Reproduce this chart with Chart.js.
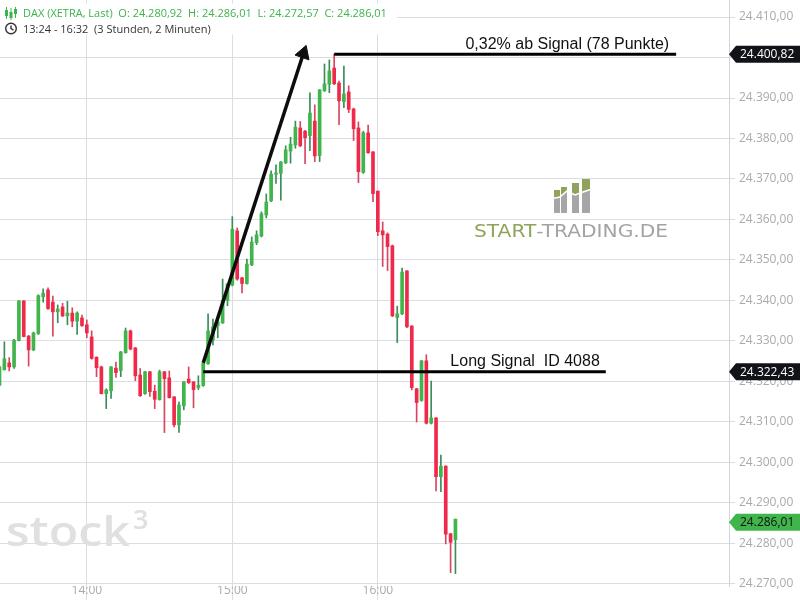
<!DOCTYPE html>
<html><head><meta charset="utf-8">
<script src="https://cdn.jsdelivr.net/npm/chart.js@4.4.1/dist/chart.umd.min.js"></script>
<style>html,body{margin:0;padding:0;background:#fff;}#wrap{width:800px;height:600px;position:relative;}</style>
</head><body><div id="wrap"><canvas id="c" width="800" height="600"></canvas></div>
<script>
// ---------- DATA ----------
const instrument = 'DAX (XETRA, Last)';
const rangeText = '13:24 - 16:32  (3 Stunden, 2 Minuten)';
const times = ['13:24','13:26','13:28','13:30','13:32','13:34','13:36','13:38','13:40','13:42','13:44','13:46','13:48','13:50','13:52','13:54','13:56','13:58',
'14:00','14:02','14:04','14:06','14:08','14:10','14:12','14:14','14:16','14:18','14:20','14:22','14:24','14:26','14:28','14:30','14:32','14:34','14:36','14:38','14:40','14:42','14:44','14:46','14:48','14:50','14:52','14:54','14:56','14:58',
'15:00','15:02','15:04','15:06','15:08','15:10','15:12','15:14','15:16','15:18','15:20','15:22','15:24','15:26','15:28','15:30','15:32','15:34','15:36','15:38','15:40','15:42','15:44','15:46','15:48','15:50','15:52','15:54','15:56','15:58',
'16:00','16:02','16:04','16:06','16:08','16:10','16:12','16:14','16:16','16:18','16:20','16:22','16:24','16:26','16:28','16:30','16:32'];
const open = [24319.1,24322.9,24324.6,24323.6,24330.1,24339.9,24331.2,24327.8,24331.8,24340.9,24342.6,24339.6,24337.2,24338.4,24336.2,24336.9,24334.9,24335.7,24334.0,24331.0,
24326.0,24323.6,24317.0,24317.7,24323.3,24322.7,24327.1,24332.5,24328.3,24321.6,24317.0,24322.4,24317.6,24315.5,24322.4,24320.9,24316.2,24309.3,24314.0,24320.6,
24319.9,24318.5,24319.0,24324.4,24330.2,24333.8,24334.5,24340.0,24343.8,24357.2,24345.6,24344.2,24348.8,24354.3,24355.9,24361.1,24364.6,24371.2,24371.4,24374.0,
24376.9,24378.4,24382.6,24381.8,24380.7,24384.3,24375.8,24391.8,24393.4,24397.4,24393.7,24389.1,24391.5,24387.3,24382.6,24371.6,24381.4,24376.7,24367.0,24357.2,
24356.4,24353.5,24335.8,24336.7,24347.3,24333.7,24318.2,24315.3,24325.1,24309.7,24311.0,24296.5,24299.1,24282.4,24280.92];
const high = [24323.8,24329.8,24325.9,24330.4,24340.0,24340.0,24331.4,24332.2,24341.4,24342.9,24343.1,24341.1,24338.9,24339.3,24339.8,24338.2,24337.2,24336.4,24335.2,24332.5,
24326.1,24323.8,24318.2,24323.7,24324.8,24327.4,24333.2,24332.7,24328.4,24323.2,24322.5,24322.5,24319.1,24322.8,24322.5,24322.6,24316.3,24314.9,24320.0,24323.6,
24320.0,24321.4,24324.6,24336.7,24335.4,24335.4,24345.3,24344.2,24360.7,24357.9,24345.7,24350.2,24355.7,24357.2,24361.9,24366.3,24372.0,24373.5,24374.3,24378.2,
24380.3,24384.3,24384.2,24382.0,24391.3,24388.3,24392.1,24398.4,24399.4,24400.82,24394.2,24397.9,24393.0,24387.5,24384.1,24381.8,24383.3,24376.8,24367.1,24359.4,
24356.7,24353.7,24338.6,24348.0,24347.4,24333.8,24318.3,24325.2,24326.6,24320.1,24311.1,24301.8,24299.2,24282.5,24286.01];
const low = [24318.9,24322.8,24322.6,24323.2,24330.0,24331.0,24323.8,24327.6,24331.6,24339.6,24337.8,24331.2,24334.5,24336.0,24334.0,24333.5,24331.6,24333.6,24330.8,24325.5,
24321.2,24316.9,24313.3,24315.8,24321.0,24321.2,24327.0,24327.8,24320.2,24316.3,24316.8,24316.3,24313.3,24315.4,24307.4,24315.9,24308.8,24307.4,24313.0,24319.5,
24313.5,24318.0,24318.8,24324.2,24329.0,24330.8,24334.3,24338.7,24343.6,24345.0,24341.9,24344.0,24348.6,24353.8,24355.7,24360.4,24364.4,24368.9,24364.8,24373.8,
24373.9,24377.6,24378.0,24373.8,24377.0,24374.3,24374.3,24391.6,24391.3,24393.3,24383.4,24387.6,24386.4,24379.5,24369.1,24371.4,24376.3,24364.4,24356.0,24348.4,
24347.4,24336.0,24329.6,24336.5,24333.3,24317.9,24310.0,24315.1,24309.5,24309.5,24293.0,24292.8,24279.9,24272.8,24272.57];
const close = [24323.6,24325.6,24323.6,24330.2,24339.9,24331.1,24327.8,24332.0,24341.2,24341.8,24338.0,24337.2,24337.9,24336.2,24336.9,24334.9,24336.9,24333.8,24332.0,24325.7,
24323.4,24317.0,24317.9,24323.6,24322.2,24327.3,24332.5,24328.0,24321.4,24316.5,24322.4,24317.5,24315.6,24322.4,24320.7,24316.0,24309.3,24314.2,24319.9,24319.7,
24318.0,24319.1,24324.5,24332.5,24333.5,24334.7,24340.1,24344.1,24357.6,24345.3,24344.2,24349.0,24354.4,24356.2,24361.4,24364.3,24371.2,24371.5,24374.2,24377.2,
24378.6,24382.8,24378.2,24380.2,24386.3,24375.7,24392.0,24393.5,24396.7,24393.5,24389.3,24391.0,24387.2,24382.4,24371.8,24381.4,24376.5,24366.4,24357.0,24356.2,
24353.3,24336.2,24336.7,24347.0,24333.5,24318.5,24314.8,24325.1,24309.7,24311.0,24296.5,24299.1,24282.3,24280.3,24286.01];
const yTickValues = [24270,24280,24290,24300,24310,24320,24330,24340,24350,24360,24370,24380,24390,24400,24410];
const xTickLabels = ['14:00','15:00','16:00'];
const signalLine = {start:'14:48', end:'17:34', price:24322.43, label:'Long Signal  ID 4088'};
const targetLine = {start:'15:42', end:'18:03', price:24400.82, label:'0,32% ab Signal (78 Punkte)'};
const arrowFrom = {time:'14:48', price:24324.6};
const arrowTo = {time:'15:29.3', price:24401.0};
const priceTags = [
  {price:24400.82, bg:'#111318', fg:'#ffffff', shift:0},
  {price:24322.43, bg:'#111318', fg:'#ffffff', shift:0},
  {price:24286.01, bg:'#3fb54b', fg:'#111111', shift:3}
];
const xRange = {min:'13:24.2', max:'18:24.8'};
const yRange = {min:24269.5, max:24414.2};

// ---------- HELPERS ----------
const toMin = s => { const p = s.split(':'); return (+p[0])*60 + parseFloat(p[1]); };
const fmtNum = v => { const f = v.toFixed(2).split('.'); return f[0].replace(/\B(?=(\d{3})+(?!\d))/g,'.') + ',' + f[1]; };
const fmtTime = v => { const h = Math.floor(v/60), m = Math.round(v - h*60); return String(h).padStart(2,'0') + ':' + String(m).padStart(2,'0'); };

const GREEN='#3fb54b', RED='#f0284a', GREEN_W='#3a8c5a', RED_W='#d8455f';
const GRID='#dcdce5', AXISC='#d3d3dc', LABEL='#aaaaaa';
const xs = times.map(toMin);
const up = close.map((c,i)=> c >= open[i]);

const decor = {
  id:'decor',
  beforeDatasetsDraw(chart){
    const ctx = chart.ctx;
    ctx.save();
    // stock3 watermark
    ctx.fillStyle = '#e0e0e0';
    ctx.textBaseline = 'alphabetic';
    ctx.font = '600 42px "Open Sans"';
    const w = ctx.measureText('stock').width;
    ctx.save(); ctx.translate(6, 546); ctx.scale(124/w, 1); ctx.fillText('stock', 0, 0); ctx.restore();
    ctx.font = '600 27px "Open Sans"';
    ctx.fillText('3', 133, 529);
    // START-TRADING.DE logo
    const bars = [[554,190],[561,187],[572,183],[582,179]];
    const bw = [6,6,7,8];
    bars.forEach((b,k)=>{ ctx.fillStyle='#a6a6a6'; ctx.fillRect(b[0], b[1], bw[k], 213-b[1]); });
    ctx.save();
    ctx.beginPath(); ctx.moveTo(550,175); ctx.lineTo(595,175); ctx.lineTo(595,188); ctx.lineTo(583,192); ctx.lineTo(575,195); ctx.lineTo(567,191); ctx.lineTo(560,197); ctx.lineTo(550,199); ctx.closePath(); ctx.clip();
    bars.forEach((b,k)=>{ ctx.fillStyle='#8fa35a'; ctx.fillRect(b[0], b[1], bw[k], 213-b[1]); });
    ctx.restore();
    ctx.strokeStyle='#ffffff'; ctx.lineWidth=1.6;
    ctx.beginPath(); ctx.moveTo(550,199); ctx.lineTo(560,197); ctx.lineTo(567,191); ctx.lineTo(575,195); ctx.lineTo(583,192); ctx.lineTo(595,188); ctx.stroke();
    ctx.font = '17px "DejaVu Sans"';
    const t1 = 'START', t2 = '-TRADING.DE';
    const w1 = ctx.measureText(t1).width, w2 = ctx.measureText(t2).width;
    const sc = 194/(w1+w2);
    ctx.save(); ctx.translate(474, 237); ctx.scale(sc,1);
    ctx.fillStyle='#8fa35a'; ctx.fillText(t1,0,0);
    ctx.fillStyle='#a3a3a3'; ctx.fillText(t2,w1,0);
    ctx.restore();
    ctx.restore();
  },
  afterDraw(chart){
    const ctx = chart.ctx, xS = chart.scales.x, yS = chart.scales.y;
    ctx.save();
    // line labels
    ctx.font = '16px "Liberation Sans", Arial, sans-serif';
    ctx.fillStyle = '#111';
    ctx.textAlign = 'right'; ctx.textBaseline = 'alphabetic';
    [[targetLine,7],[signalLine,6]].forEach(([L,off])=>{
      ctx.fillText(L.label, xS.getPixelForValue(toMin(L.end)) - off, yS.getPixelForValue(L.price) - 5.5);
    });
    // price tags
    ctx.textAlign='left'; ctx.textBaseline='middle';
    ctx.font = '12px "Open Sans"';
    const xa = chart.chartArea.right;
    priceTags.forEach(t=>{
      const yc = yS.getPixelForValue(t.price) + t.shift;
      ctx.fillStyle = t.bg;
      ctx.beginPath(); ctx.moveTo(xa, yc); ctx.lineTo(xa+7, yc-8.5); ctx.lineTo(800, yc-8.5); ctx.lineTo(800, yc+8.5); ctx.lineTo(xa+7, yc+8.5); ctx.closePath(); ctx.fill();
      ctx.fillStyle = t.fg; ctx.fillText(fmtNum(t.price), xa+11, yc+0.5);
    });
    // header
    ctx.fillStyle='#fff'; ctx.fillRect(0,3.5,397,31);
    const n = close.length-1;
    const hdr = instrument + '  O: ' + fmtNum(open[n]) + '  H: ' + fmtNum(high[n]) + '  L: ' + fmtNum(low[n]) + '  C: ' + fmtNum(close[n]);
    ctx.font = '11px "Open Sans"'; ctx.textBaseline='alphabetic'; ctx.textAlign='left';
    ctx.fillStyle = '#3db34b'; ctx.fillText(hdr, 23, 17);
    ctx.fillStyle = '#333'; ctx.fillText(rangeText, 23, 32.5);
    // candle icon
    ctx.strokeStyle='#3db34b'; ctx.fillStyle='#3db34b'; ctx.lineWidth=1;
    [[6.5,7,19,10,16],[11,8,20,12,18],[15.5,7,18,9,14]].forEach(c=>{
      ctx.beginPath(); ctx.moveTo(c[0],c[1]); ctx.lineTo(c[0],c[2]); ctx.stroke();
      ctx.fillRect(c[0]-1.5,c[3],3,c[4]-c[3]);
    });
    // clock icon
    ctx.strokeStyle='#333'; ctx.lineWidth=1.4;
    ctx.beginPath(); ctx.arc(11,28.5,5.3,0,Math.PI*2); ctx.stroke();
    ctx.beginPath(); ctx.moveTo(11,25.5); ctx.lineTo(11,28.7); ctx.lineTo(13.5,30.2); ctx.stroke();
    ctx.restore();
  }
};

new Chart(document.getElementById('c'), {
  type:'bar',
  data:{ datasets:[
    {type:'line', data:[{x:toMin(signalLine.start),y:signalLine.price},{x:toMin(signalLine.end),y:signalLine.price}], borderColor:'#000', borderWidth:3, pointRadius:0, order:0, borderCapStyle:'butt'},
    {type:'line', data:[{x:toMin(targetLine.start),y:targetLine.price},{x:toMin(targetLine.end),y:targetLine.price}], borderColor:'#000', borderWidth:3, pointRadius:0, order:0, borderCapStyle:'butt'},
    {type:'line', data:[{x:toMin(arrowFrom.time),y:arrowFrom.price},{x:toMin(arrowTo.time),y:arrowTo.price}], borderColor:'#0d0d0d', borderWidth:3.5, pointRadius:[0,8.5], pointStyle:'triangle', pointRotation:[0,19], pointBackgroundColor:'#0d0d0d', pointBorderColor:'#0d0d0d', pointBorderWidth:1, order:0, borderCapStyle:'butt'},
    {type:'bar', data: xs.map((x,i)=>({x, y:[open[i], close[i]]})), backgroundColor: up.map(u=>u?GREEN:RED), barThickness:3, minBarLength:1, grouped:false, order:1, borderWidth:0},
    {type:'bar', data: xs.map((x,i)=>({x, y:[low[i], high[i]]})), backgroundColor: up.map(u=>u?GREEN_W:RED_W), barThickness:1, grouped:false, order:2, borderWidth:0}
  ]},
  options:{
    responsive:false, animation:false, events:[],
    layout:{padding:0, autoPadding:false},
    plugins:{legend:{display:false}, tooltip:{enabled:false}},
    scales:{
      x:{ type:'linear', min:toMin(xRange.min), max:toMin(xRange.max), offset:false,
        grid:{color:GRID, tickLength:16, offset:false}, border:{display:false},
        ticks:{color:LABEL, font:{size:12, family:'"Open Sans"'}, padding:-19, maxRotation:0, callback:v=>fmtTime(v)},
        afterBuildTicks:s=>{ s.ticks = xTickLabels.map(t=>({value:toMin(t)})); },
        afterFit:s=>{ s.height = 14; s.paddingLeft=0; s.paddingRight=0; }
      },
      y:{ type:'linear', position:'right', min:yRange.min, max:yRange.max,
        grid:{color:GRID, tickLength:6}, border:{display:true, color:AXISC},
        ticks:{color:LABEL, font:{size:12, family:'"Open Sans"'}, padding:4, callback:v=>fmtNum(v)},
        afterBuildTicks:s=>{ s.ticks = yTickValues.map(v=>({value:v})); },
        afterFit:s=>{ s.width = 71; s.paddingTop=0; s.paddingBottom=0; }
      }
    }
  },
  plugins:[decor]
});
</script></body></html>
